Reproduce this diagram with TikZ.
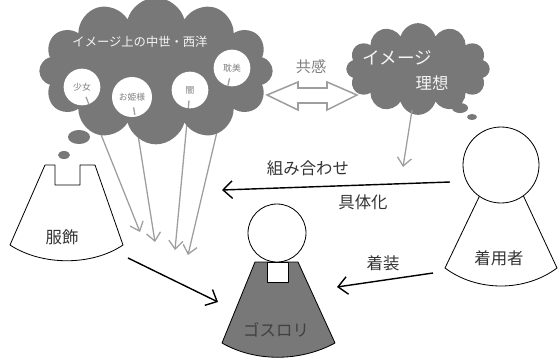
\documentclass[tikz,border=0pt]{standalone}
\usepackage{fontspec}
\setmainfont{Noto Sans CJK JP}
\usetikzlibrary{shapes.symbols,arrows.meta,calc}
\definecolor{cloudgray}{gray}{0.47}
\definecolor{linegray}{gray}{0.62}
\definecolor{inkgray}{gray}{0.2}

\begin{document}
\begin{tikzpicture}[x=0.03cm,y=-0.03cm,
  bubble/.style={cloud,cloud puffs=12,cloud ignores aspect,fill=cloudgray,draw=none},
  ball/.style={circle,fill=white,inner sep=0pt,minimum size=1.1cm,font=\fontsize{7.5}{8}\selectfont,text=gray},
  ray/.style={linegray,line width=1.1pt,-{Straight Barb[length=7pt,width=12pt]}},
  push/.style={black,line width=1.2pt,-{Straight Barb[length=8pt,width=15pt]}},
  lbl/.style={font=\fontsize{14}{15}\selectfont,text=inkgray},
  body/.style={draw=black,line width=0.7pt,line join=round}]

\useasboundingbox (0,0) rectangle (560,357);

\coordinate (girl) at (82,87);
\coordinate (princess) at (132,97);
\coordinate (dark) at (190,90);
\coordinate (aesthete) at (232,68);
\coordinate (girlEnd) at (140,232);
\coordinate (princessEnd) at (155,242);
\coordinate (darkEnd) at (175,250);
\coordinate (aestheteEnd) at (188,255);

\draw[ray] (girl) -- (girlEnd);
\draw[ray] (princess) -- (princessEnd);
\draw[ray] (dark) -- (darkEnd);
\draw[ray] (aesthete) -- (aestheteEnd);

% the big thought bubble
\node[bubble,minimum width=7.0cm,minimum height=4.4cm] (medieval) at (156,71) {};
\fill[cloudgray] (79,137) ellipse [x radius=11, y radius=7];
\fill[cloudgray] (64,155) ellipse [x radius=6, y radius=4];
\node[text=white!92!gray,font=\fontsize{10.5}{11}\selectfont] (medievalTitle) at (140,42) {イメージ上の中世・西洋};

\node[ball] (girlBall) at (girl) {少女};
\node[ball,minimum size=1.2cm] (princessBall) at (princess) {お姫様};
\node[ball] (darkBall) at (dark) {闇};
\node[ball] (aestheteBall) at (aesthete) {耽美};
\foreach \k in {girl,princess,dark,aesthete}
  \draw[linegray,line width=1.1pt] ($(\k)!9pt!(\k End)$) -- ($(\k)!15.5pt!(\k End)$);

% empathy arrow
\draw[linegray,line width=1.3pt,fill=white,line join=miter]
  (267,95) -- (298,82) -- (298,88) -- (327,88) -- (327,82) -- (357,95)
  -- (327,110) -- (327,103) -- (298,103) -- (298,110) -- cycle;
\node[font=\fontsize{13}{14}\selectfont,text=gray] (empathy) at (311,67) {共感};

% the small thought bubble
\node[bubble,minimum width=4.3cm,minimum height=2.75cm] (ideal) at (418,69) {};
\fill[cloudgray] (460,108) ellipse [x radius=8, y radius=5];
\fill[cloudgray] (472,117) ellipse [x radius=5, y radius=3];
\node[text=white!92!gray,font=\fontsize{15}{16}\selectfont] (idealImage) at (397,58) {イメージ};
\node[text=white!92!gray,font=\fontsize{14}{15}\selectfont] (idealText) at (432,83) {理想};
\coordinate (idealEnd) at (403,167);
\draw[ray] (ideal.south) ++(-6,-5) -- (idealEnd);

% clothing
\draw[body,fill=white] (45,165) -- (55,165) -- (55,185) -- (80,185) -- (80,165) -- (95,165)
  -- (123,245) .. controls (92,266) and (42,266) .. (10,245) -- cycle;
\node[lbl] (dress) at (62,237) {服飾};

% gothic lolita
\draw[body,fill=cloudgray] (255,262) -- (298,262) -- (335,343)
  .. controls (300,362) and (255,362) .. (222,343) -- cycle;
\draw[body,fill=white] (267,262) rectangle (288,282);
\draw[body,fill=white] (277,233) circle [radius=29];
\node[lbl,text=black!75] (gothic) at (276,330) {ゴスロリ};

% wearer
\draw[body,fill=white] (480,195) -- (523,195) -- (557,268)
  .. controls (525,292) and (477,292) .. (445,268) -- cycle;
\draw[body,fill=white] (501,165) circle [radius=38];
\node[lbl] (wearer) at (499,258) {着用者};

\coordinate (wearerHead) at (450,182);
\coordinate (combineEnd) at (222,190);
\coordinate (wearerBody) at (433,273);
\coordinate (gothicRight) at (337,287);
\coordinate (dressRight) at (128,258);
\coordinate (gothicLeft) at (218,302);

\draw[push] (wearerHead) -- (combineEnd);
\node[lbl] (combine) at (308,168) {組み合わせ};
\node[lbl] (embody) at (363,202) {具体化};
\draw[push] (wearerBody) -- (gothicRight);
\node[lbl] (wearing) at (383,263) {着装};
\draw[push] (dressRight) -- (gothicLeft);
\end{tikzpicture}
\end{document}
